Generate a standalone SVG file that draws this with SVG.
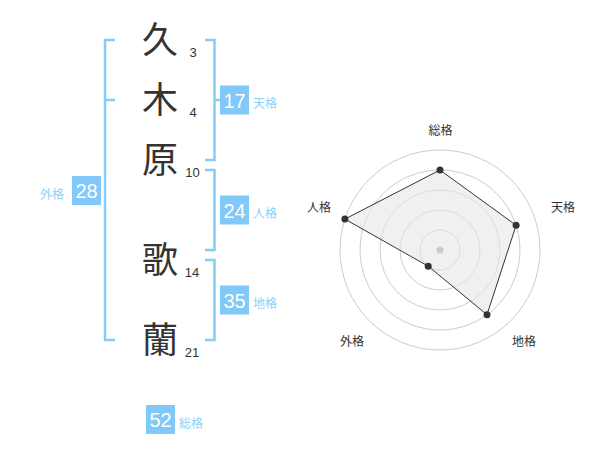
<svg xmlns="http://www.w3.org/2000/svg" width="600" height="470" viewBox="0 0 600 470">
<style>
.br{fill:none;stroke:#85cdf7;stroke-width:2.5}
.box{fill:#80c9f8}
.bt{font-family:"Liberation Sans",Arial,sans-serif;font-size:20px;fill:#fff;text-anchor:middle}
.lb{font-family:"Noto Sans CJK JP","Noto Sans CJK SC",sans-serif;font-size:12px;fill:#8dd0f5}
.ch{font-family:"Noto Sans CJK JP","Noto Sans CJK SC",sans-serif;font-size:36px;fill:#333;text-anchor:middle}
.num{font-family:"Liberation Sans",Arial,sans-serif;font-size:13px;fill:#333;text-anchor:middle}
.ring{fill:none;stroke:#ccc;stroke-width:1}
.rl{font-family:"Noto Sans CJK JP","Noto Sans CJK SC",sans-serif;font-size:12px;fill:#333;text-anchor:middle}
.pt{fill:#333}
</style>
<rect width="600" height="470" fill="#fff"/>
<g id="chars">
<text class="ch" x="160" y="53">久</text>
<text class="ch" x="160" y="113">木</text>
<text class="ch" x="160" y="173">原</text>
<text class="ch" x="160" y="273">歌</text>
<text class="ch" x="160" y="353">蘭</text>
<text class="num" x="193" y="57">3</text>
<text class="num" x="193" y="117">4</text>
<text class="num" x="192.5" y="177">10</text>
<text class="num" x="192" y="277">14</text>
<text class="num" x="192" y="357">21</text>
</g>
<g id="connectors">
<path class="br" d="M115,40 H105 V340 H115 M105,100 H115"/>
<path class="br" d="M205,40 H214.5 V160 H205 M214.5,100 H220"/>
<path class="br" d="M205,170 H214.5 V250 H205"/>
<path class="br" d="M205,260 H214.5 V340 H205"/>
</g>
<g id="tenkaku">
<rect class="box" x="220" y="85.5" width="29" height="29"/>
<text class="bt" x="234.5" y="107.5">17</text>
<text class="lb" x="253" y="108">天格</text>
</g>
<g id="jinkaku">
<rect class="box" x="220" y="195.5" width="29" height="29"/>
<text class="bt" x="234.5" y="217.5">24</text>
<text class="lb" x="253" y="218">人格</text>
</g>
<g id="chikaku">
<rect class="box" x="220" y="285.5" width="29" height="29"/>
<text class="bt" x="234.5" y="307.5">35</text>
<text class="lb" x="253" y="308">地格</text>
</g>
<g id="gaikaku">
<rect class="box" x="72" y="176" width="29" height="29"/>
<text class="bt" x="86.5" y="198">28</text>
<text class="lb" x="40" y="199">外格</text>
</g>
<g id="soukaku">
<rect class="box" x="146" y="405" width="29" height="29"/>
<text class="bt" x="160.5" y="427">52</text>
<text class="lb" x="179" y="428">総格</text>
</g>
<g id="radar">
<circle class="ring" cx="440" cy="250" r="20"/>
<circle class="ring" cx="440" cy="250" r="40"/>
<circle class="ring" cx="440" cy="250" r="60"/>
<circle class="ring" cx="440" cy="250" r="80"/>
<circle class="ring" cx="440" cy="250" r="100"/>
<polygon points="440,170 516.1,225.3 487,314.7 428.2,266.2 344.9,219.1" fill="#e6e6e6" fill-opacity="0.6" stroke="#333" stroke-width="1"/>
<circle cx="440" cy="250" r="3.5" fill="#ccc"/>
<circle class="pt" cx="440" cy="170" r="3.5"/>
<circle class="pt" cx="516.1" cy="225.3" r="3.5"/>
<circle class="pt" cx="487" cy="314.7" r="3.5"/>
<circle class="pt" cx="428.2" cy="266.2" r="3.5"/>
<circle class="pt" cx="344.9" cy="219.1" r="3.5"/>
<text class="rl" x="440.5" y="135">総格</text>
<text class="rl" x="563" y="212">天格</text>
<text class="rl" x="524" y="346">地格</text>
<text class="rl" x="352" y="346">外格</text>
<text class="rl" x="319" y="212">人格</text>
</g>
</svg>
